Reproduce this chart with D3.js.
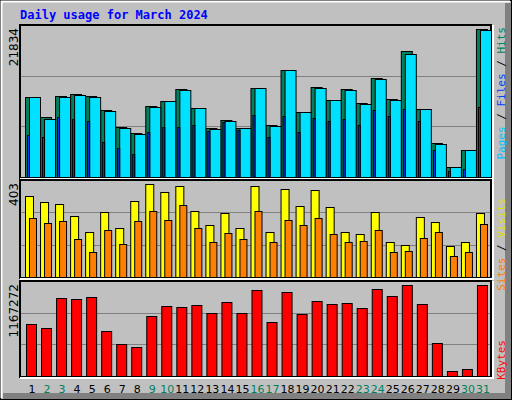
<!DOCTYPE html><html><head><meta charset="utf-8">
<script src="https://cdn.jsdelivr.net/npm/d3@7"></script>
<style>body{margin:0;background:#fff}</style></head><body>
<script>
const days=d3.range(1,32);
const weekend=[2,3,9,10,16,17,23,24,30,31];
const hits=[11450,8570,11590,11880,11590,9580,7140,6280,10150,10870,12600,9870,7000,8140,7000,12740,7430,15330,9290,12880,11020,12600,10590,14180,11160,18050,9720,4840,1390,3830,21210];
const files=[11450,8290,11450,11740,11450,9440,7000,6130,10010,10870,12450,9870,6850,8000,7000,12740,7280,15330,9290,12740,11020,12450,10440,14030,11020,17620,9720,4700,1390,3830,21070];
const pages=[6030,5750,8620,8330,8040,5030,4170,3300,6460,7180,7180,7470,6610,7900,6750,8910,5750,8760,6460,8480,8040,8330,7470,9620,8760,9770,8040,3880,860,1150,10060];
const visits=[335,310,302,252,186,269,202,315,385,352,377,273,215,265,202,377,186,364,294,360,290,186,177,269,144,132,248,227,128,144,265];
const sites=[244,223,231,157,103,194,136,231,273,236,298,202,144,182,157,273,144,236,215,244,177,144,148,194,103,107,161,186,86,103,219];
const kbytes=[641,592,957,945,969,556,398,361,738,860,847,872,775,908,775,1054,665,1030,762,920,884,896,835,1066,981,1115,884,410,57,81,1115].map(v=>v*1000);
const maxHits=21834, maxVisits=403, maxKB=1167272;

const W=512,H=400;
const svg=d3.select("body").append("svg").attr("width",W).attr("height",H).style("display","block");
svg.append("rect").attr("width",W).attr("height",H).attr("fill","#c0c0c0");
// frame
svg.append("rect").attr("x",0.5).attr("y",0.5).attr("width",W-1).attr("height",H-1).attr("fill","none").attr("stroke","#000");
svg.append("path").attr("d","M1.5,398V1.5H510").attr("stroke","#fff").attr("stroke-width",2).attr("fill","none");
svg.append("rect").attr("x",505).attr("y",3).attr("width",6).attr("height",396).attr("fill","#808080");
svg.append("rect").attr("x",3).attr("y",393).attr("width",508).attr("height",6).attr("fill","#808080");
svg.append("text").attr("x",20).attr("y",19).text("Daily usage for March 2024")
 .attr("fill","#0000ff").attr("font-family","DejaVu Sans Mono").attr("font-weight","bold").attr("font-size",12);

const x=d3.scaleBand().domain(days).range([22,488]);
const L=20,R=491;
function panel(top,bottom,max,label){
  const y=d3.scaleLinear().domain([0,max]).range([bottom,top]);
  svg.append("rect").attr("x",L).attr("y",top).attr("width",R-L).attr("height",bottom-top+1).attr("fill","#c0c0c0").attr("stroke","#000").attr("stroke-width",2);
  [max/3,2*max/3].forEach(v=>svg.append("line").attr("x1",L+1).attr("x2",R-1).attr("y1",Math.round(y(v))+0.5).attr("y2",Math.round(y(v))+0.5).attr("stroke","#808080"));
  svg.append("line").attr("x1",L).attr("x2",R+1).attr("y1",bottom+2).attr("y2",bottom+2).attr("stroke","#fff").attr("stroke-width",2);
  svg.append("line").attr("x1",R+2).attr("x2",R+2).attr("y1",top).attr("y2",bottom+3).attr("stroke","#fff").attr("stroke-width",2);
  svg.append("text").attr("transform",`translate(18,${top+3}) rotate(-90)`).attr("text-anchor","end")
   .attr("font-family","DejaVu Sans").attr("font-size",12).text(label);
  return y;
}
function bars(data,y,dx,w,color){
  svg.append("g").selectAll("rect").data(data).join("rect")
   .attr("x",(d,i)=>x(days[i])+dx+0.5).attr("y",d=>Math.round(y(d))+0.5)
   .attr("width",w).attr("height",d=>Math.max(0,y(0)-Math.round(y(d))))
   .attr("fill",color).attr("stroke","#000");
}
const y1=panel(25,177,maxHits,maxHits);
bars(hits,y1,3,11,"#00805c");
bars(files,y1,7,11,"#00e0ff");
bars(pages,y1,5,2,"#0040ff");
const y2=panel(180,277,maxVisits,maxVisits);
bars(visits,y2,3,8,"#ffff00");
bars(sites,y2,7,7,"#ff8000");
const y3=panel(281,376,maxKB,maxKB);
bars(kbytes,y3,4,10,"#ff0000");

svg.append("g").selectAll("text").data(days).join("text")
 .attr("x",d=>x(d)+10).attr("y",393).attr("text-anchor","middle")
 .attr("font-family","DejaVu Sans").attr("font-size",11)
 .attr("fill",d=>weekend.includes(d)?"#00805c":"#000").text(d=>d);

function sideLabel(yEnd,parts){
  const t=svg.append("text").attr("transform",`translate(505,${yEnd}) rotate(-90)`).attr("text-anchor","end")
   .attr("font-family","DejaVu Sans Mono").attr("font-size",11);
  parts.forEach(p=>t.append("tspan").attr("fill",p[1]).text(p[0]));
}
sideLabel(27,[["Pages","#00c0ff"],[" / ","#000"],["Files","#0040ff"],[" / ","#000"],["Hits","#00805c"]]);
sideLabel(198,[["Sites","#ff8000"],[" / ","#000"],["Visits","#e0e000"]]);
sideLabel(340,[["KBytes","#ff0000"]]);
</script></body></html>
